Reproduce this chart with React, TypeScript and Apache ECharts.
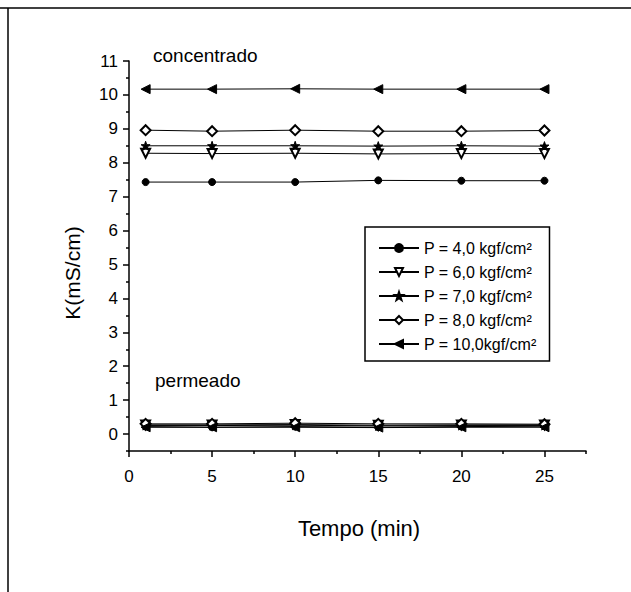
import React, { useEffect, useRef } from "react";
import * as echarts from "echarts";

const times = [1, 5, 10, 15, 20, 25];
const seriesNames = [
  "P = 4,0 kgf/cm²",
  "P = 6,0 kgf/cm²",
  "P = 7,0 kgf/cm²",
  "P = 8,0 kgf/cm²",
  "P = 10,0kgf/cm²",
];
// concentrado
const conc4 = [7.43, 7.43, 7.43, 7.48, 7.47, 7.47];
const conc6 = [8.28, 8.27, 8.28, 8.26, 8.27, 8.27];
const conc7 = [8.5, 8.5, 8.5, 8.49, 8.5, 8.49];
const conc8 = [8.96, 8.93, 8.96, 8.93, 8.93, 8.95];
const conc10 = [10.17, 10.17, 10.18, 10.17, 10.17, 10.17];
// permeado
const perm4 = [0.22, 0.2, 0.22, 0.2, 0.22, 0.23];
const perm6 = [0.27, 0.27, 0.28, 0.26, 0.27, 0.27];
const perm7 = [0.25, 0.25, 0.26, 0.24, 0.25, 0.25];
const perm8 = [0.3, 0.3, 0.32, 0.3, 0.3, 0.29];
const perm10 = [0.2, 0.2, 0.2, 0.19, 0.2, 0.2];

const yMajorTicks = [0, 1, 2, 3, 4, 5, 6, 7, 8, 9, 10, 11];
const yMinorTicks = [-0.5, 0.5, 1.5, 2.5, 3.5, 4.5, 5.5, 6.5, 7.5, 8.5, 9.5, 10.5];
const xMajorTicks = [0, 5, 10, 15, 20, 25];
const xMinorTicks = [2.5, 7.5, 12.5, 17.5, 22.5, 27.5];

const STAR =
  "path://M0,-10 L2.35,-3.24 L9.51,-3.09 L3.8,1.24 L5.88,8.09 L0,4 L-5.88,8.09 L-3.8,1.24 L-9.51,-3.09 L-2.35,-3.24 Z";

const symbols = [
  { symbol: "circle", rotate: 0, size: 7 },
  { symbol: "emptyTriangle", rotate: 180, size: 9 },
  { symbol: STAR, rotate: 0, size: 9 },
  { symbol: "emptyDiamond", rotate: 0, size: 10 },
  { symbol: "triangle", rotate: 90, size: 9 },
];

const concData = [conc4, conc6, conc7, conc8, conc10];
const permData = [perm4, perm6, perm7, perm8, perm10];

const FONT = "Liberation Sans";

export default function App() {
  const ref = useRef<HTMLDivElement>(null);
  useEffect(() => {
    if (!ref.current) return;
    const chart = echarts.init(ref.current, null, { renderer: "svg" });
    const mk = (arr: number[], i: number) => ({
      name: seriesNames[i],
      type: "line",
      xAxisIndex: 0,
      yAxisIndex: 0,
      data: times.map((t, k) => [t, arr[k]]),
      symbol: symbols[i].symbol,
      symbolRotate: symbols[i].rotate,
      symbolSize: symbols[i].size,
      lineStyle: { color: "#000", width: 1 },
      itemStyle: { color: "#000", borderColor: "#000", borderWidth: 1 },
      emphasis: { disabled: true },
      z: 3,
    });
    const series: any[] = [];
    concData.forEach((a, i) => series.push(mk(a, i)));
    permData.forEach((a, i) => series.push(mk(a, i)));

    chart.setOption({
      animation: false,
      backgroundColor: "#fff",
      textStyle: { fontFamily: FONT, color: "#000" },
      grid: { left: 129, right: 45, top: 61, bottom: 141, containLabel: false },
      xAxis: [
        {
          type: "value",
          min: 0,
          max: 27.5,
          interval: 2.5,
          axisLine: { show: true, onZero: false, lineStyle: { color: "#000", width: 1.5 } },
          axisTick: { show: true, customValues: xMajorTicks, length: 6, lineStyle: { color: "#000", width: 1.5 } },
          axisLabel: { customValues: xMajorTicks, fontSize: 17, color: "#000", margin: 17, fontFamily: FONT },
          splitLine: { show: false },
        },
        {
          type: "value",
          min: 0,
          max: 27.5,
          interval: 2.5,
          position: "bottom",
          axisLine: { show: false, onZero: false },
          axisTick: { show: true, customValues: xMinorTicks, length: 3, lineStyle: { color: "#000", width: 1.5 } },
          axisLabel: { show: false },
          splitLine: { show: false },
        },
      ],
      yAxis: [
        {
          type: "value",
          min: -0.5,
          max: 11,
          interval: 0.5,
          axisLine: { show: true, lineStyle: { color: "#000", width: 1.5 } },
          axisTick: { show: true, customValues: yMajorTicks, length: 6, lineStyle: { color: "#000", width: 1.5 } },
          axisLabel: { customValues: yMajorTicks, fontSize: 17, color: "#000", margin: 11, fontFamily: FONT },
          splitLine: { show: false },
        },
        {
          type: "value",
          min: -0.5,
          max: 11,
          interval: 0.5,
          position: "left",
          axisLine: { show: false },
          axisTick: { show: true, customValues: yMinorTicks, length: 3, lineStyle: { color: "#000", width: 1.5 } },
          axisLabel: { show: false },
          splitLine: { show: false },
        },
      ],
      legend: {
        orient: "vertical",
        left: 365,
        top: 227,
        data: seriesNames,
        itemWidth: 40,
        itemHeight: 10,
        itemGap: 8,
        padding: [13, 13, 9, 13],
        borderColor: "#000",
        borderWidth: 1.5,
        backgroundColor: "#fff",
        selectedMode: false,
        textStyle: { fontSize: 16, color: "#000", fontFamily: FONT, lineHeight: 16 },
      },
      series,
      graphic: [
        { type: "line", shape: { x1: 0, y1: 8, x2: 631, y2: 8 }, style: { stroke: "#000", lineWidth: 1.5 } },
        { type: "line", shape: { x1: 8, y1: 8, x2: 8, y2: 592 }, style: { stroke: "#000", lineWidth: 1.5 } },
        {
          type: "text",
          x: 153,
          y: 55,
          style: { text: "concentrado", fontSize: 19, fontFamily: FONT, fill: "#000", textVerticalAlign: "middle" },
        },
        {
          type: "text",
          x: 155,
          y: 380,
          style: { text: "permeado", fontSize: 19, fontFamily: FONT, fill: "#000", textVerticalAlign: "middle" },
        },
        {
          type: "text",
          x: 359,
          y: 528,
          style: { text: "Tempo (min)", fontSize: 22, fontFamily: FONT, fill: "#000", textAlign: "center", textVerticalAlign: "middle" },
        },
        {
          type: "text",
          x: 72,
          y: 273,
          rotation: Math.PI / 2,
          style: { text: "K(mS/cm)", fontSize: 21, fontFamily: FONT, fill: "#000", textAlign: "center", textVerticalAlign: "middle" },
        },
      ],
    });
    return () => chart.dispose();
  }, []);
  return (
    <div
      ref={ref}
      style={{ position: "fixed", left: 0, top: 0, width: 631, height: 592, background: "#fff" }}
    />
  );
}
